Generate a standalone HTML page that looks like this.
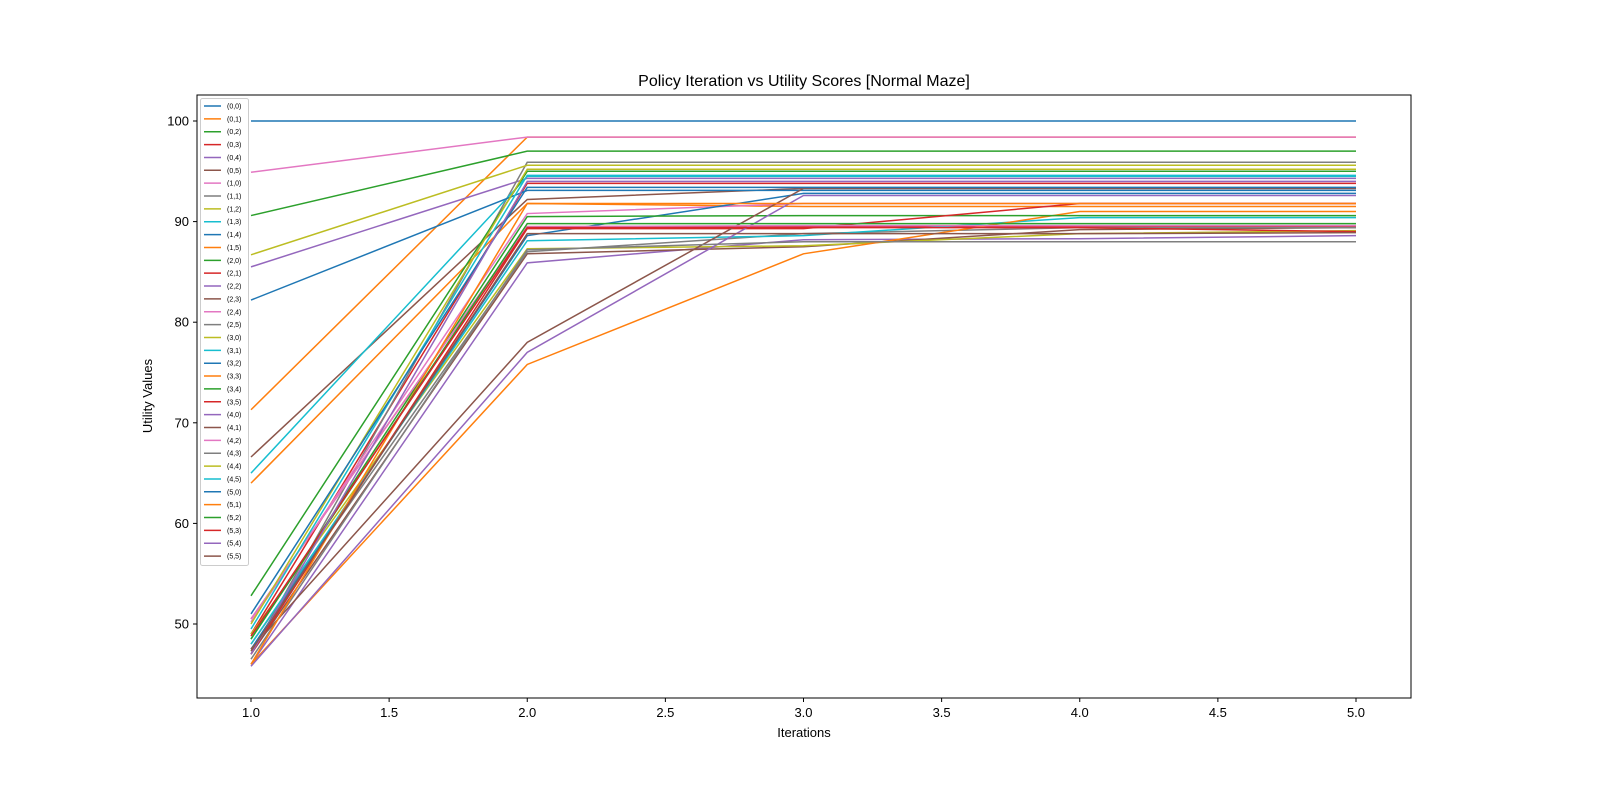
<!DOCTYPE html>
<html><head><meta charset="utf-8"><style>
html,body{margin:0;padding:0;background:#fff;overflow:hidden;width:1600px;height:800px;font-family:"Liberation Sans","DejaVu Sans",sans-serif;}
svg{display:block;}
</style></head><body>
<svg id="chart" width="1600" height="800" xmlns="http://www.w3.org/2000/svg" font-family="Liberation Sans, DejaVu Sans, sans-serif"></svg>
<script>
const iterations=[1,2,3,4,5];
const seriesNames=["(0,0)","(0,1)","(0,2)","(0,3)","(0,4)","(0,5)","(1,0)","(1,1)","(1,2)","(1,3)","(1,4)","(1,5)","(2,0)","(2,1)","(2,2)","(2,3)","(2,4)","(2,5)","(3,0)","(3,1)","(3,2)","(3,3)","(3,4)","(3,5)","(4,0)","(4,1)","(4,2)","(4,3)","(4,4)","(4,5)","(5,0)","(5,1)","(5,2)","(5,3)","(5,4)","(5,5)"];
const s00=[100,100,100,100,100];
const s01=[71.3,98.4,98.4,98.4,98.4];
const s02=[90.6,97,97,97,97];
const s03=[49,93.8,93.8,93.8,93.8];
const s04=[85.5,94.3,94.3,94.3,94.3];
const s05=[66.6,92.2,93.3,93.3,93.3];
const s10=[94.9,98.4,98.4,98.4,98.4];
const s11=[47,95.9,95.9,95.9,95.9];
const s12=[86.7,95.6,95.6,95.6,95.6];
const s13=[65,94.5,94.5,94.5,94.5];
const s14=[82.2,93.1,93.1,93.1,93.1];
const s15=[64,91.8,91.5,91.5,91.5];
const s20=[52.8,95,95,95,95];
const s21=[50.5,89.5,89.5,89.5,89.5];
const s22=[46,85.9,88.2,88.3,88.6];
const s23=[47,86.8,87.5,89.2,89.4];
const s24=[50.2,90.8,91.8,91.8,91.8];
const s25=[48,87,88.8,89.4,89.4];
const s30=[49,87.3,87.6,88.8,89.1];
const s31=[48,88.1,88.6,90.4,90.4];
const s32=[47.5,88.6,92.8,92.8,92.8];
const s33=[46,75.8,86.8,91,91];
const s34=[48.5,90.5,90.6,90.6,90.6];
const s35=[47,89.3,89.3,91.8,91.8];
const s40=[45.8,77,92.6,92.6,92.6];
const s41=[47.5,78,93.3,93.3,93.3];
const s42=[50.5,89.5,89.6,89.6,89.6];
const s43=[46.5,87.2,88,88,88];
const s44=[50,95.2,95.2,95.2,95.2];
const s45=[49.5,94.6,94.6,94.6,94.6];
const s50=[51,93.4,93.4,93.4,93.4];
const s51=[46,91.8,91.8,91.8,91.8];
const s52=[48.5,89.8,89.8,89.8,89.8];
const s53=[48.8,89.4,89.4,89.4,89];
const s54=[47,94,94,94,94];
const s55=[47.3,88.8,88.8,88.8,88.9];
const seriesValues=[s00,s01,s02,s03,s04,s05,s10,s11,s12,s13,s14,s15,s20,s21,s22,s23,s24,s25,s30,s31,s32,s33,s34,s35,s40,s41,s42,s43,s44,s45,s50,s51,s52,s53,s54,s55];
const xTicks=[1.0,1.5,2.0,2.5,3.0,3.5,4.0,4.5,5.0];
const yTicks=[50,60,70,80,90,100];

const colors=["#1f77b4","#ff7f0e","#2ca02c","#d62728","#9467bd","#8c564b","#e377c2","#7f7f7f","#bcbd22","#17becf"];
const L=197,R=1411,T=95,B=698;
const xS=v=>251+(v-1)*276.25;
const yS=v=>121+(100-v)*10.06;
const NS="http://www.w3.org/2000/svg";
const svg=document.getElementById("chart");
function mk(tag,attrs,parent){const e=document.createElementNS(NS,tag);for(const k in attrs)e.setAttribute(k,attrs[k]);(parent||svg).appendChild(e);return e;}

const g=mk("g",{});


seriesValues.forEach((vals,i)=>{
  const p=mk("polyline",{points:vals.map((v,j)=>xS(iterations[j])+","+yS(v)).join(" "),fill:"none",stroke:colors[i%10],"stroke-width":1.5},g);
  
  
});
const frame=mk("rect",{x:L,y:T,width:R-L,height:B-T,fill:"none",stroke:"#000","stroke-width":1});



xTicks.forEach(t=>{
  const x=xS(t);
  mk("line",{x1:x,x2:x,y1:B,y2:B+4,stroke:"#000"});
  const tx=mk("text",{x:x,y:B+19,"text-anchor":"middle","font-size":13});
  tx.textContent=t.toFixed(1);
  
  
});
yTicks.forEach(t=>{
  const y=yS(t);
  mk("line",{x1:L-4,x2:L,y1:y,y2:y,stroke:"#000"});
  const tx=mk("text",{x:L-8,y:y+4.5,"text-anchor":"end","font-size":13});
  tx.textContent=t;
  
  
});
const title=mk("text",{x:804,y:86,"text-anchor":"middle","font-size":16});
title.textContent="Policy Iteration vs Utility Scores [Normal Maze]";


const xl=mk("text",{x:804,y:737,"text-anchor":"middle","font-size":13});
xl.textContent="Iterations";


const yl=mk("text",{x:152,y:396,"text-anchor":"middle","font-size":13,transform:"rotate(-90 152 396)"});
yl.textContent="Utility Values";



const lg=mk("g",{});


mk("rect",{x:200.5,y:98.5,width:48,height:467,rx:2,fill:"#fff","fill-opacity":0.8,stroke:"#ccc"},lg);
seriesNames.forEach((n,i)=>{
  const y=106+i*12.86;
  const e=mk("g",{},lg);
  
  
  mk("line",{x1:204,x2:221,y1:y,y2:y,stroke:colors[i%10],"stroke-width":1.5},e);
  const t=mk("text",{x:227,y:y+2.5,"font-size":7},e);
  t.textContent=n;
});
</script>
</body></html>
